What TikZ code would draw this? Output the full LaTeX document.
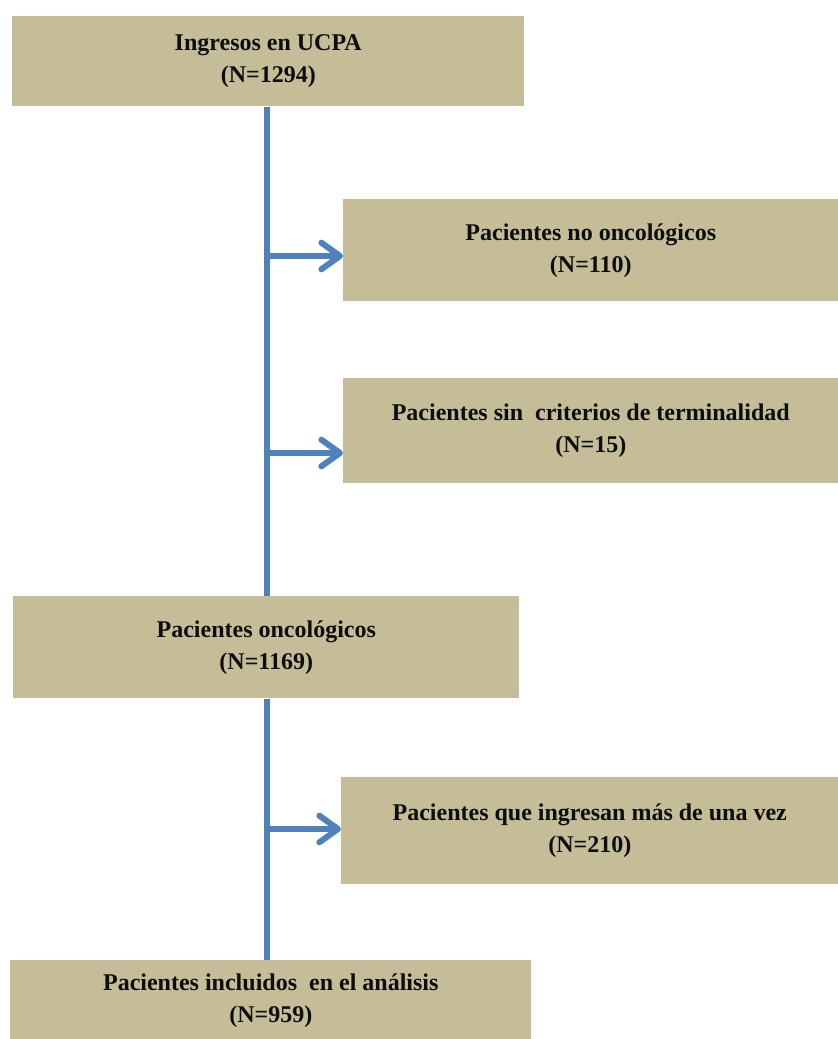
\documentclass[tikz,border=0pt]{standalone}
\usepackage{fontspec}
\setmainfont{Liberation Serif}
\usetikzlibrary{arrows.meta}
\definecolor{boxtan}{HTML}{C4BD97}
\definecolor{flowblue}{HTML}{4F81BD}
\begin{document}
\begin{tikzpicture}[x=0.75pt,y=-0.75pt,
  box/.style={fill=boxtan, draw=none, inner sep=0pt, align=center, anchor=north west,
    font=\fontsize{18}{24}\selectfont\bfseries, text=black!95},
  trunkline/.style={draw=flowblue, line width=4.5pt},
  branch/.style={draw=flowblue, line width=4.5pt,
    -{Straight Barb[length=14pt,width=20pt,line cap=round,round]}}]
\useasboundingbox (0,0) rectangle (838,1039);

% main flow boxes
\node[box, minimum width=384pt, minimum height=67.5pt] (b1) at (12,16)
  {Ingresos en UCPA\\(N=1294)};
\node[box, minimum width=379.5pt, minimum height=76.5pt] (onc) at (13,596)
  {Pacientes oncológicos\\(N=1169)};
\node[box, minimum width=390.75pt, minimum height=60pt] (inc) at (10,960)
  {Pacientes incluidos\ \ en el análisis\\(N=959)};

% excluded patients
\node[box, minimum width=371.25pt, minimum height=76.5pt] (no) at (343,199)
  {Pacientes no oncológicos\\(N=110)};
\node[box, minimum width=371.25pt, minimum height=78.75pt] (sin) at (343,378)
  {Pacientes sin\ \ criterios de terminalidad\\(N=15)};
\node[box, minimum width=372.75pt, minimum height=80.25pt] (mas) at (341,777)
  {Pacientes que ingresan más de una vez\\(N=210)};

% vertical trunk
\coordinate (trunk) at (267,0);
\draw[trunkline] (b1.south -| trunk) -- (onc.north -| trunk);
\draw[trunkline] (onc.south -| trunk) -- (inc.north -| trunk);

% exclusion branches
\coordinate (j1) at (267,256);
\coordinate (j2) at (267,453);
\coordinate (j3) at (267,829);
\draw[branch] (j1) -- (j1 -| no.west);
\draw[branch] (j2) -- (j2 -| sin.west);
\draw[branch] (j3) -- (j3 -| mas.west);
\end{tikzpicture}
\end{document}
